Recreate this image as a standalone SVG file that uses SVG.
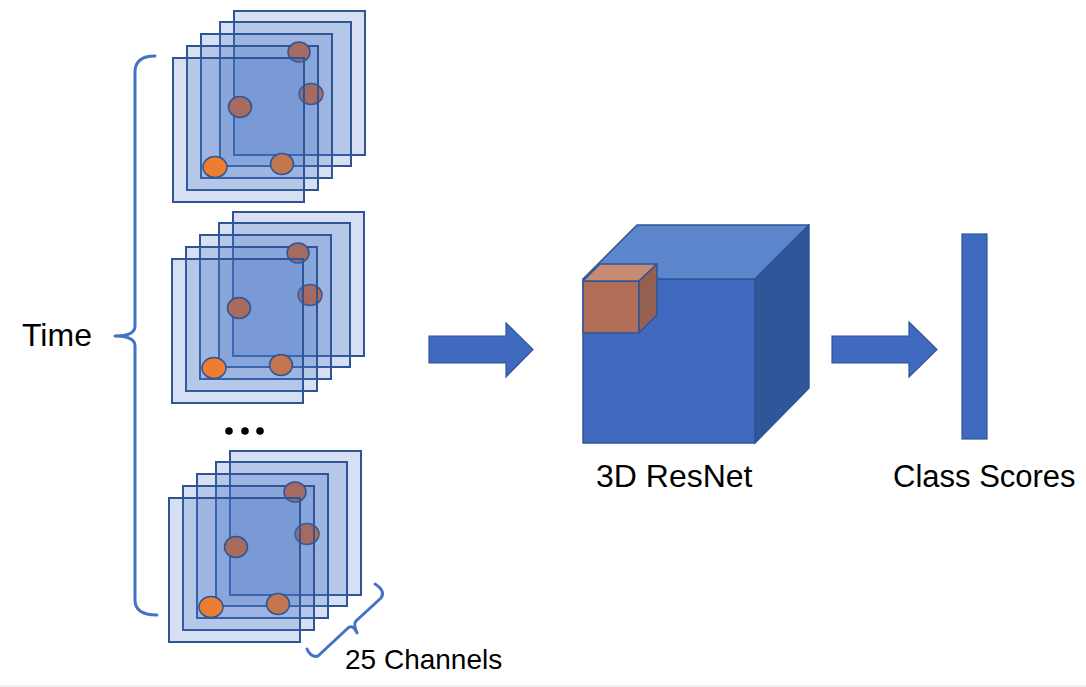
<svg xmlns="http://www.w3.org/2000/svg" xmlns:xlink="http://www.w3.org/1999/xlink" width="1086" height="687" viewBox="0 0 1086 687">
  <style>
    .frame { fill: #4472C4; fill-opacity: 0.22; stroke: #2F5597; stroke-width: 2; }
    .dot { stroke: #2F5597; stroke-width: 1.5; }
    .brace { fill: none; stroke: #4472C4; stroke-width: 3; stroke-linecap: round; stroke-linejoin: round; }
    .label { font-family: "Liberation Sans", Arial, sans-serif; fill: #000000; }
    .solid { fill: #3F6ABF; stroke: #2F5597; stroke-width: 1.2; }
    .edge { stroke: #2F5597; stroke-width: 1.5; stroke-linejoin: round; }
  </style>
  <defs>
    <g id="stackShape">
      <rect class="frame" x="234" y="11" width="131" height="144"/>
      <rect class="frame" x="220" y="22" width="131" height="144"/>
      <rect class="frame" x="201" y="34" width="131" height="144"/>
      <ellipse class="dot" cx="311" cy="94" rx="12" ry="10.5" fill="#C16944"/>
      <rect class="frame" x="187" y="46" width="131" height="144"/>
      <ellipse class="dot" cx="299" cy="52" rx="11" ry="10" fill="#A56A62"/>
      <rect class="frame" x="173" y="58" width="131" height="144"/>
      <ellipse class="dot" cx="240" cy="107" rx="11.5" ry="10.5" fill="#A86C5F"/>
      <ellipse class="dot" cx="282" cy="164" rx="11.5" ry="10.5" fill="#C47650"/>
      <ellipse class="dot" cx="215" cy="167" rx="12" ry="10.5" fill="#ED7D31"/>
    </g>
  </defs>

  <rect x="0" y="685" width="1086" height="2" fill="#F0F0F0"/>

  <g id="stack1">
    <use xlink:href="#stackShape" href="#stackShape"/>
  </g>
  <g id="stack2">
    <use xlink:href="#stackShape" href="#stackShape" transform="translate(-1,201)"/>
  </g>
  <g id="ellipsis">
    <circle cx="229" cy="431" r="3.8" fill="#000"/>
    <circle cx="245" cy="431" r="3.8" fill="#000"/>
    <circle cx="260" cy="431" r="3.8" fill="#000"/>
  </g>
  <g id="stack3">
    <use xlink:href="#stackShape" href="#stackShape" transform="translate(-4,440)"/>
  </g>

  <g id="time">
    <path class="brace" d="M155,56 Q135,56 135,72 L135,326 Q135,336 115,336 Q135,336 135,346 L135,600 Q135,615 157,615"/>
    <text class="label" x="22" y="346" font-size="32">Time</text>
  </g>

  <g id="channels">
    <path class="brace" stroke-width="2.5" d="M307,649 Q311,658 318,656 L348,628 Q353,624 357,633 Q353,624 356,621 L381,598 Q386,591 375,584"/>
    <text class="label" x="345" y="669" font-size="28">25 Channels</text>
  </g>

  <g id="resnet">
    <polygon class="edge" fill="#3F6ABF" points="583,279 755,279 755,443 583,443"/>
    <polygon class="edge" fill="#5E86CC" points="583,279 637,225 809,225 755,279"/>
    <polygon class="edge" fill="#30569A" points="755,279 809,225 809,388 755,443"/>
    <polygon class="edge" fill="#B06E58" points="583,281 639,281 639,333 583,333"/>
    <polygon class="edge" fill="#C58B74" points="583,281 600,264 657,264 639,281"/>
    <polygon class="edge" fill="#955F52" points="639,281 657,264 657,315 639,333"/>
    <text class="label" x="596" y="487" font-size="32">3D ResNet</text>
  </g>

  <g id="scores">
    <rect class="solid" x="962" y="234" width="25" height="205"/>
    <text class="label" x="893" y="487" font-size="31">Class Scores</text>
  </g>

  <g id="connectors">
    <polygon class="solid" points="429,336 506,336 506,323 533,349.5 506,377 506,363 429,363"/>
    <polygon class="solid" points="832,336 909,336 909,322 937,349.5 909,377 909,363 832,363"/>
  </g>
</svg>
